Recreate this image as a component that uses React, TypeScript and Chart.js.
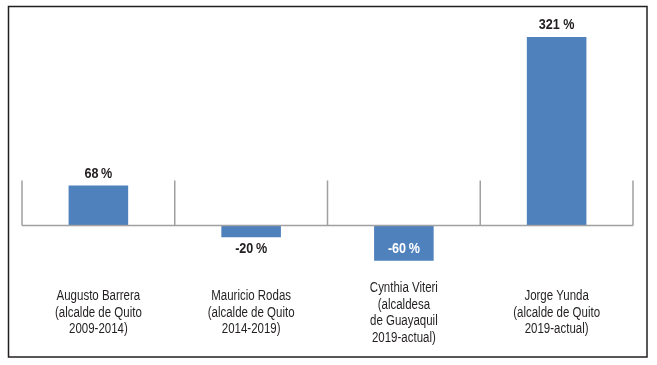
import React, { useEffect, useRef } from "react";
import { Chart, registerables } from "chart.js";

Chart.register(...registerables);

const categories: string[][] = [
  ["Augusto Barrera", "(alcalde de Quito", "2009-2014)"],
  ["Mauricio Rodas", "(alcalde de Quito", "2014-2019)"],
  ["Cynthia Viteri", "(alcaldesa", "de Guayaquil", "2019-actual)"],
  ["Jorge Yunda", "(alcalde de Quito", "2019-actual)"],
];
const values: number[] = [68, -20, -60, 321];
const valueLabels: string[] = ["68\u2009%", "-20\u2009%", "-60\u2009%", "321 %"];
const labelInside: boolean[] = [false, false, true, false];

const FONT = "'Liberation Sans', Arial, sans-serif";
const TEXT = "#231f20";
const AXIS = "#a0a0a0";

const decorPlugin = {
  id: "decor",
  beforeDraw(chart: any) {
    const { ctx } = chart;
    ctx.save();
    ctx.fillStyle = "#ffffff";
    ctx.fillRect(0, 0, chart.width, chart.height);
    ctx.strokeStyle = TEXT;
    ctx.lineWidth = 1.5;
    ctx.strokeRect(8.5, 6.5, 638.5, 350.5);
    ctx.restore();
  },
  afterDatasetsDraw(chart: any) {
    const { ctx, chartArea } = chart;
    const xs = chart.scales.x;
    const ys = chart.scales.y;
    const zeroY = ys.getPixelForValue(0);
    const n = categories.length;
    const w = (chartArea.right - chartArea.left) / n;
    ctx.save();
    ctx.strokeStyle = AXIS;
    ctx.lineWidth = 1.5;
    ctx.beginPath();
    ctx.moveTo(chartArea.left, zeroY);
    ctx.lineTo(chartArea.right, zeroY);
    for (let i = 0; i <= n; i++) {
      const x = i < n ? xs.getPixelForValue(i) - w / 2 : xs.getPixelForValue(n - 1) + w / 2;
      ctx.moveTo(x, zeroY);
      ctx.lineTo(x, zeroY - 45);
    }
    ctx.stroke();

    // value labels
    const meta = chart.getDatasetMeta(0);
    ctx.textAlign = "center";
    ctx.textBaseline = "middle";
    meta.data.forEach((bar: any, i: number) => {
      const v = values[i];
      const dir = v >= 0 ? -1 : 1;
      const off = 11.5;
      let y: number;
      if (labelInside[i]) {
        y = bar.y - dir * off;
        ctx.fillStyle = "#ffffff";
      } else {
        y = bar.y + dir * off;
        ctx.fillStyle = TEXT;
      }
      ctx.save();
      ctx.font = `bold 14px ${FONT}`;
      ctx.translate(bar.x, y);
      ctx.scale(0.9, 1);
      ctx.fillText(valueLabels[i], 0, 0);
      ctx.restore();
    });

    // category labels (condensed look)
    const lineH = 16.5;
    const centerY = chartArea.bottom + 40.6;
    ctx.fillStyle = TEXT;
    ctx.font = `14px ${FONT}`;
    categories.forEach((lines, i) => {
      const x = xs.getPixelForValue(i);
      const y0 = centerY - ((lines.length - 1) / 2) * lineH;
      lines.forEach((t, j) => {
        ctx.save();
        ctx.translate(x, y0 + j * lineH);
        ctx.scale(0.82, 1);
        ctx.fillText(t, 0, 0);
        ctx.restore();
      });
    });
    ctx.restore();
  },
};

export default function App() {
  const ref = useRef<HTMLCanvasElement>(null);
  useEffect(() => {
    const canvas = ref.current;
    if (!canvas) return;
    const chart = new Chart(canvas, {
      type: "bar",
      data: {
        labels: categories,
        datasets: [
          {
            data: values,
            backgroundColor: "#4f81bd",
            borderWidth: 0,
            categoryPercentage: 1,
            barPercentage: 0.39,
          },
        ],
      },
      options: {
        responsive: false,
        animation: false,
        layout: { padding: { left: 22, right: 24, top: 20, bottom: 92.6 } },
        plugins: { legend: { display: false }, tooltip: { enabled: false } },
        scales: {
          x: {
            grid: { display: false, drawTicks: false },
            border: { display: false },
            ticks: { display: false },
          },
          y: {
            display: false,
            min: -80,
            max: 350,
          },
        },
      },
      plugins: [decorPlugin],
    } as any);
    return () => chart.destroy();
  }, []);
  return (
    <div style={{ position: "absolute", left: 0, top: 0, width: 657, height: 365 }}>
      <canvas ref={ref} width={657} height={365} />
    </div>
  );
}
